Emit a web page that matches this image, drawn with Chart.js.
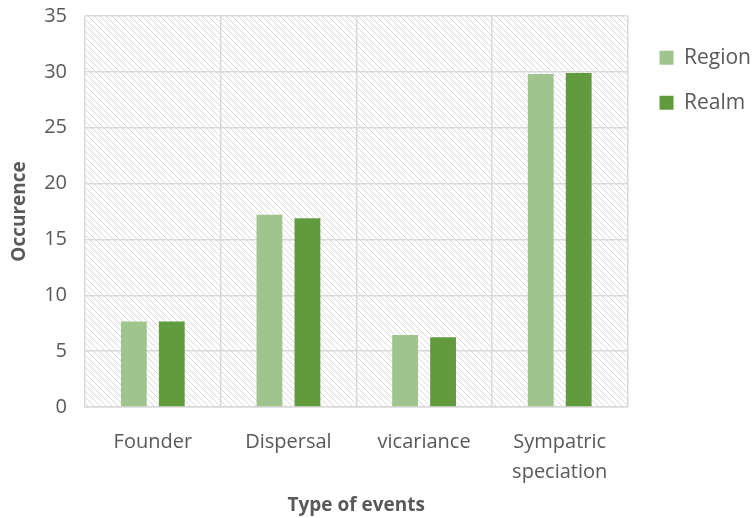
<!DOCTYPE html>
<html>
<head>
<meta charset="utf-8">
<script src="https://cdn.jsdelivr.net/npm/chart.js@4"></script>
<style>
  html, body { margin: 0; padding: 0; background: #fff; }
  #wrap { width: 753px; height: 518px; }
</style>
</head>
<body>
<div id="wrap"><canvas id="chart" width="753" height="518"></canvas></div>
<script>
// categories and series
const categories = ['Founder', 'Dispersal', 'vicariance', ['Sympatric', 'speciation']];
const regionValues = [7.65, 17.2, 6.45, 29.8];
const realmValues = [7.65, 16.9, 6.25, 29.9];
const yTicks = [0, 5, 10, 15, 20, 25, 30, 35];

const textColor = '#595959';
const gridColor = '#D9D9D9';

// diagonal hatch for the plot area background
function makeHatch() {
    const c = document.createElement('canvas');
    c.width = 6;
    c.height = 6;
    const g = c.getContext('2d');
    g.strokeStyle = '#D9D9D9';
    g.lineWidth = 1;
    g.beginPath();
    g.moveTo(-1, -1); g.lineTo(7, 7);
    g.moveTo(-1, 5); g.lineTo(1, 7);
    g.moveTo(5, -1); g.lineTo(7, 1);
    g.stroke();
    return c;
}

const hatchPlugin = {
    id: 'hatch',
    beforeDraw: (chart) => {
        const ctx = chart.ctx;
        const a = chart.chartArea;
        ctx.save();
        ctx.fillStyle = ctx.createPattern(makeHatch(), 'repeat');
        ctx.fillRect(a.left, a.top, a.right - a.left, a.bottom - a.top);
        ctx.restore();
    }
};

// nudge the legend a little to the right, like the original
const legendShift = {
    id: 'legendShift',
    afterLayout: (chart) => {
        const lg = chart.legend;
        lg.left += 8;
        lg.right += 8;
        if (lg.adjustHitBoxes) lg.adjustHitBoxes();
    }
};

const ctx = document.getElementById('chart').getContext('2d');
new Chart(ctx, {
    type: 'bar',
    data: {
        labels: categories,
        datasets: [{
            label: 'Region',
            data: regionValues,
            backgroundColor: '#A0C48E',
            categoryPercentage: 0.56,
            barPercentage: 0.68
        }, {
            label: 'Realm',
            data: realmValues,
            backgroundColor: '#629A3E',
            categoryPercentage: 0.56,
            barPercentage: 0.68
        }]
    },
    options: {
        responsive: false,
        animation: false,
        layout: {
            padding: { top: 16, right: 0, left: 0, bottom: 0 }
        },
        scales: {
            x: {
                afterFit: (scale) => {
                    scale.height = 111;
                },
                grid: {
                    color: gridColor,
                    lineWidth: 1.5,
                    drawTicks: false
                },
                border: { color: gridColor, width: 1.5 },
                ticks: {
                    color: textColor,
                    padding: 20,
                    font: { family: 'Open Sans', size: 20, lineHeight: 1.5 }
                },
                title: {
                    display: true,
                    text: 'Type of events',
                    color: textColor,
                    padding: { top: 0, bottom: 1 },
                    font: { family: 'Open Sans', size: 19, weight: 'bold' }
                }
            },
            y: {
                min: 0,
                max: 35,
                afterBuildTicks: (scale) => {
                    scale.ticks = yTicks.map(v => ({ value: v }));
                },
                afterFit: (scale) => {
                    scale.width = 85;
                    scale.paddingTop = 0;
                    scale.paddingBottom = 0;
                },
                grid: {
                    color: gridColor,
                    lineWidth: 1.5,
                    drawTicks: false
                },
                border: { display: false },
                ticks: {
                    color: textColor,
                    padding: 18,
                    font: { family: 'Open Sans', size: 20 }
                },
                title: {
                    display: true,
                    text: 'Occurence',
                    color: textColor,
                    padding: { top: 8, bottom: 0 },
                    font: { family: 'Open Sans', size: 19, weight: 'bold' }
                }
            }
        },
        plugins: {
            legend: {
                position: 'right',
                align: 'start',
                title: {
                    display: true,
                    text: ' ',
                    padding: { top: 6, bottom: 0 },
                    font: { size: 1 }
                },
                labels: {
                    color: textColor,
                    boxWidth: 14,
                    boxHeight: 14,
                    padding: 24,
                    font: { family: 'Open Sans', size: 21 }
                }
            },
            tooltip: { enabled: false }
        }
    },
    plugins: [hatchPlugin, legendShift]
});
</script>
</body>
</html>
